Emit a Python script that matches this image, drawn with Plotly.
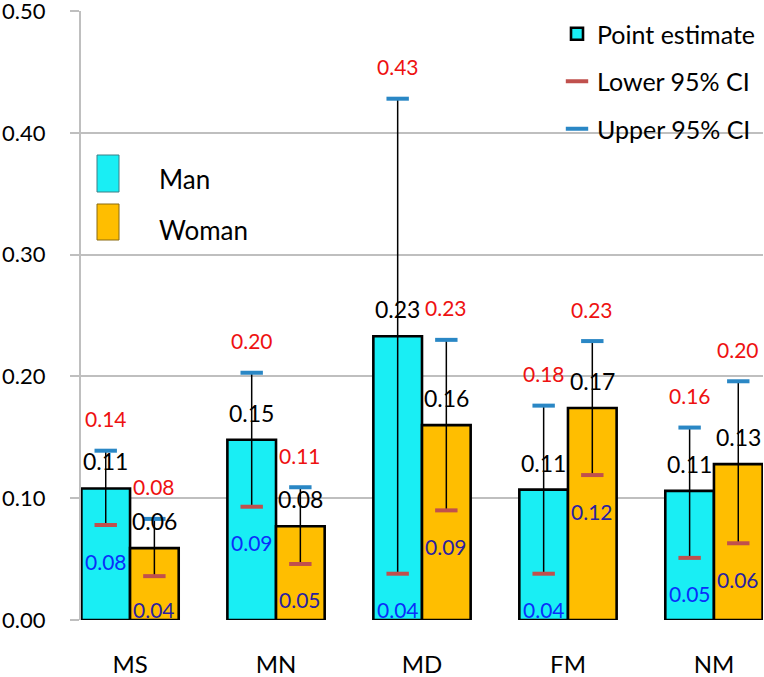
import numpy as np
import plotly.graph_objects as go

categories = ["MS", "MN", "MD", "FM", "NM"]
man_point = [0.108, 0.148, 0.233, 0.107, 0.106]
man_lower = [0.078, 0.093, 0.038, 0.038, 0.051]
man_upper = [0.139, 0.203, 0.428, 0.176, 0.158]
woman_point = [0.059, 0.077, 0.160, 0.174, 0.128]
woman_lower = [0.036, 0.046, 0.090, 0.119, 0.063]
woman_upper = [0.083, 0.109, 0.230, 0.229, 0.196]
y_ticks = [0.0, 0.1, 0.2, 0.3, 0.4, 0.5]

W, H = 764, 677
ML, MR, MT, MB = 81, 1, 11, 57
plot_w = W - ML - MR
plot_h = H - MT - MB
y_max = 0.5
ppu = plot_h / y_max

FONT = "Lato, 'Open Sans', sans-serif"
CYAN = "#19EEF4"
GOLD = "#FFBE00"
LOW_C = "#C0504D"
UP_C = "#2A87C5"

idx = np.arange(len(categories))
half = 1 / 6
x_man = idx - half
x_woman = idx + half

fig = go.Figure()


def err(point, lower, upper):
    p = np.array(point)
    return dict(type="data", symmetric=False,
                array=np.array(upper) - p, arrayminus=p - np.array(lower),
                color="black", thickness=1.5, width=0)


fig.add_trace(go.Bar(x=idx, y=man_point, name="Point estimate", legendgroup="a",
                     marker=dict(color=CYAN, line=dict(color="black", width=2.6))))
fig.add_trace(go.Bar(x=idx, y=woman_point, name="Woman", showlegend=False,
                     marker=dict(color=GOLD, line=dict(color="black", width=2.6))))

# CI whiskers
fig.add_trace(go.Scatter(x=x_man, y=man_point, mode="markers", showlegend=False,
                         marker=dict(size=1, opacity=0),
                         error_y=err(man_point, man_lower, man_upper), hoverinfo="skip"))
fig.add_trace(go.Scatter(x=x_woman, y=woman_point, mode="markers", showlegend=False,
                         marker=dict(size=1, opacity=0),
                         error_y=err(woman_point, woman_lower, woman_upper), hoverinfo="skip"))

low_marker = dict(symbol="line-ew", size=16, line=dict(color=LOW_C, width=4), color=LOW_C)
up_marker = dict(symbol="line-ew", size=16, line=dict(color=UP_C, width=4), color=UP_C)

fig.add_trace(go.Scatter(x=x_man, y=man_lower, mode="markers", name="Lower 95% CI",
                         legendgroup="b", marker=low_marker))
fig.add_trace(go.Scatter(x=x_woman, y=woman_lower, mode="markers", showlegend=False,
                         marker=low_marker))
fig.add_trace(go.Scatter(x=x_man, y=man_upper, mode="markers", name="Upper 95% CI",
                         legendgroup="c", marker=up_marker))
fig.add_trace(go.Scatter(x=x_woman, y=woman_upper, mode="markers", showlegend=False,
                         marker=up_marker))

annotations = []
groups = [
    (x_man, man_point, man_lower, man_upper, "#0A2EFA"),
    (x_woman, woman_point, woman_lower, woman_upper, "#2A1FA0"),
]
for xs, pts, los, ups, blue in groups:
    for x, p, lo, up in zip(xs, pts, los, ups):
        annotations.append(dict(x=x, y=p, text=f"{p:.2f}", showarrow=False,
                                yanchor="middle", yshift=27,
                                font=dict(family=FONT, size=23, color="black")))
        annotations.append(dict(x=x, y=up, text=f"{up:.2f}", showarrow=False,
                                yanchor="middle", yshift=32,
                                font=dict(family=FONT, size=21, color="#EE1111")))
        shift = -36
        if lo * ppu + shift < 10:
            shift = 10 - lo * ppu
        annotations.append(dict(x=x, y=lo, text=f"{lo:.2f}", showarrow=False,
                                yanchor="middle", yshift=shift,
                                font=dict(family=FONT, size=21, color=blue)))


def px_x(px):
    return (px - ML) / plot_w


def px_y(py):
    return (MT + plot_h - py) / plot_h


shapes = [
    dict(type="rect", xref="paper", yref="paper", x0=px_x(97), x1=px_x(119),
         y0=px_y(192), y1=px_y(155), fillcolor=CYAN, line=dict(color="#3C7F86", width=1)),
    dict(type="rect", xref="paper", yref="paper", x0=px_x(97), x1=px_x(119),
         y0=px_y(240), y1=px_y(204), fillcolor=GOLD, line=dict(color="#8A6A10", width=1)),
]
annotations.append(dict(xref="paper", yref="paper", x=px_x(157), y=px_y(179), text="Man",
                        showarrow=False, xanchor="left", yanchor="middle",
                        font=dict(family=FONT, size=26, color="black")))
annotations.append(dict(xref="paper", yref="paper", x=px_x(157), y=px_y(230), text="Woman",
                        showarrow=False, xanchor="left", yanchor="middle",
                        font=dict(family=FONT, size=26, color="black")))

fig.update_layout(
    width=W, height=H,
    margin=dict(l=ML, r=MR, t=MT, b=MB, pad=0, autoexpand=False),
    paper_bgcolor="white", plot_bgcolor="white",
    barmode="group", bargap=1 / 3, bargroupgap=0,
    font=dict(family=FONT, size=22, color="black"),
    shapes=shapes,
    annotations=annotations,
    showlegend=True,
    legend=dict(x=px_x(557), y=1.0, xanchor="left", yanchor="top",
                font=dict(family=FONT, size=25, color="black"),
                bgcolor="rgba(0,0,0,0)", tracegroupgap=12),
    xaxis=dict(range=[-0.336, 4.336], tickvals=idx, ticktext=categories,
               showgrid=False, zeroline=False, showline=False, ticks="",
               ticklabelstandoff=28, tickfont=dict(size=24), automargin=False),
    yaxis=dict(range=[0, y_max], tickvals=y_ticks, tickformat=".2f",
               showgrid=True, gridcolor="#BFBFBF", gridwidth=1.5,
               zeroline=False, showline=True, linecolor="#BFBFBF", linewidth=2,
               ticks="outside", ticklen=9, tickcolor="#BFBFBF", tickwidth=1.5,
               ticklabelstandoff=20, ticklabeloverflow="allow",
               tickfont=dict(size=22), automargin=False),
)

fig.write_html("out.html", config={"displayModeBar": False},
               post_script="document.body.style.margin='0px';document.body.style.padding='0px';")
